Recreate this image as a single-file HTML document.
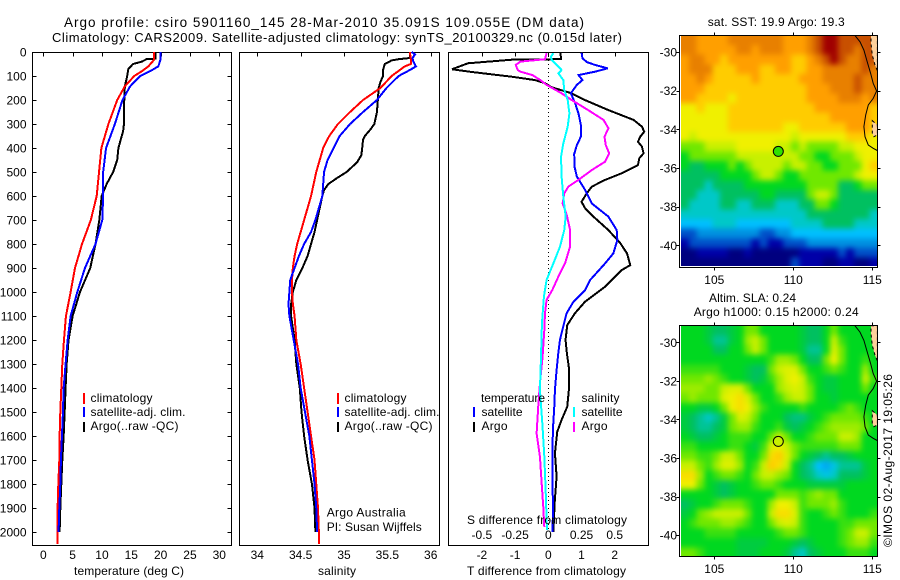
<!DOCTYPE html>
<html lang="en">
<head>
<meta charset="utf-8">
<title>Argo profile chart</title>
<style>
html,body{margin:0;padding:0;background:#fff;}
svg{display:block;}
text{font-family:"Liberation Sans",Arial,sans-serif;font-size:12px;fill:#000;}
</style>
</head>
<body>
<svg id="chart" xmlns="http://www.w3.org/2000/svg" width="900" height="580" viewBox="0 0 900 580">
  <rect x="0" y="0" width="900" height="580" fill="#fff"/>
  <defs>
    <clipPath id="clip-map1"><rect x="681" y="36" width="196" height="230"/></clipPath>
    <clipPath id="clip-map2"><rect x="681" y="326" width="196" height="230"/></clipPath>
    <filter id="heat-smooth" filterUnits="userSpaceOnUse" x="640" y="0" width="260" height="580" color-interpolation-filters="sRGB"><feGaussianBlur stdDeviation="3"/></filter>
  </defs>
  <g id="marks"></g>

  <text x="64" y="27" style="font-size:13.5px" textLength="520" lengthAdjust="spacing">Argo profile: csiro 5901160_145 28-Mar-2010 35.091S 109.055E (DM data)</text>
  <text x="52" y="42" style="font-size:13px" textLength="570" lengthAdjust="spacing">Climatology: CARS2009. Satellite-adjusted climatology: synTS_20100329.nc (0.015d later)</text>

  <text x="74" y="575" textLength="110" lengthAdjust="spacing">temperature (deg C)</text>
  <text x="318" y="575" textLength="38" lengthAdjust="spacing">salinity</text>
  <text x="467" y="575" textLength="159" lengthAdjust="spacing">T difference from climatology</text>
  <text x="467" y="524" textLength="160" lengthAdjust="spacing">S difference from climatology</text>

  <g>
    <line x1="84" y1="393" x2="84" y2="404" stroke="#f00" stroke-width="2"/>
    <line x1="84" y1="407" x2="84" y2="417" stroke="#00f" stroke-width="2"/>
    <line x1="84" y1="422" x2="84" y2="432" stroke="#000" stroke-width="2"/>
    <text x="90.5" y="402" textLength="62" lengthAdjust="spacing">climatology</text>
    <text x="90.5" y="416" textLength="95" lengthAdjust="spacing">satellite-adj. clim.</text>
    <text x="90.5" y="430" textLength="88" lengthAdjust="spacing">Argo(..raw -QC)</text>
  </g>
  <g>
    <line x1="338" y1="393" x2="338" y2="404" stroke="#f00" stroke-width="2"/>
    <line x1="338" y1="407" x2="338" y2="417" stroke="#00f" stroke-width="2"/>
    <line x1="338" y1="422" x2="338" y2="432" stroke="#000" stroke-width="2"/>
    <text x="344.5" y="402" textLength="62" lengthAdjust="spacing">climatology</text>
    <text x="344.5" y="416" textLength="95" lengthAdjust="spacing">satellite-adj. clim.</text>
    <text x="344.5" y="430" textLength="88" lengthAdjust="spacing">Argo(..raw -QC)</text>
  </g>
  <text x="326.7" y="516.5" textLength="79" lengthAdjust="spacing">Argo Australia</text>
  <text x="326.7" y="531" textLength="95" lengthAdjust="spacing">PI: Susan Wijffels</text>

  <g>
    <text x="481" y="402" textLength="64" lengthAdjust="spacing">temperature</text>
    <line x1="474" y1="407" x2="474" y2="417" stroke="#00f" stroke-width="2"/>
    <text x="481.5" y="416" textLength="41" lengthAdjust="spacing">satellite</text>
    <line x1="474" y1="422" x2="474" y2="432" stroke="#000" stroke-width="2"/>
    <text x="481.5" y="430" textLength="26" lengthAdjust="spacing">Argo</text>
    <text x="581.5" y="402" textLength="38" lengthAdjust="spacing">salinity</text>
    <line x1="574" y1="407" x2="574" y2="417" stroke="#0ff" stroke-width="2"/>
    <text x="581.5" y="416" textLength="41" lengthAdjust="spacing">satellite</text>
    <line x1="574" y1="422" x2="574" y2="432" stroke="#f0f" stroke-width="2"/>
    <text x="581.5" y="430" textLength="26" lengthAdjust="spacing">Argo</text>
  </g>

  <text x="707.7" y="26" textLength="137" lengthAdjust="spacing">sat. SST: 19.9 Argo: 19.3</text>
  <text x="709" y="302" textLength="87" lengthAdjust="spacing">Altim. SLA: 0.24</text>
  <text x="693.7" y="316" textLength="165" lengthAdjust="spacing">Argo h1000: 0.15 h2000: 0.24</text>
  <text transform="translate(892,547) rotate(-90)" x="0" y="0" textLength="173" lengthAdjust="spacing">©IMOS 02-Aug-2017 19:05:26</text>
</svg>
<script>
// ---------- axis tick labels ----------
const depthTicks = [0,100,200,300,400,500,600,700,800,900,1000,1100,1200,1300,1400,1500,1600,1700,1800,1900,2000];
const tempTicks = [0,5,10,15,20,25,30];
const salTicks = ["34","34.5","35","35.5","36"];
const tDiffTicks = ["-2","-1","0","1","2"];
const sDiffTicks = ["-0.5","-0.25","0","0.25","0.5"];
const lonTicks = [105,110,115];
const latTicks = [-30,-32,-34,-36,-38,-40];

// ---------- temperature panel ----------
const tempDepthClim = [0,20,32,60,80,100,143,200,300,400,500,600,700,800,900,1000,1100,1200,1300,1400,1500,1600,1700,1800,1900,2000,2050];
const tempClim = [18.9,18.9,18.9,17.9,16.8,15.5,13.9,12.6,11.1,9.9,9.5,9.1,8.1,6.6,5.4,4.66,3.86,3.52,3.24,3.07,2.9,2.78,2.73,2.56,2.44,2.44,2.4];
const tempDepthSat = [0,30,60,80,100,143,200,300,400,500,600,700,800,900,1000,1100,1200,1300,1400,1500,1600,1700,1800,1900,2000];
const tempSat = [20,20,19.6,18.2,16.5,14.8,13.5,12.2,10.7,10.2,10.2,10.05,8.9,7.1,5.8,4.66,4.15,3.8,3.47,3.35,3.18,3.0,2.9,2.73,2.6];
const tempDepthArgo = [0,28,30,40,50,70,100,143,200,300,330,400,450,500,550,600,700,800,900,1000,1100,1200,1300,1400,1500,1600,1700,1800,1900,2000];
const tempArgo = [19.1,19.1,17.6,16.8,15.3,14.5,14.3,13.9,13.8,13.75,13.6,12.8,12.6,11.9,10.8,9.95,9.55,8.9,8,6.25,5,4.3,3.98,3.8,3.64,3.47,3.24,3.07,2.9,2.78];

// ---------- salinity panel ----------
const salDepthClim = [0,30,50,60,100,150,200,250,300,350,400,450,500,550,600,650,700,750,800,850,900,950,1000,1050,1100,1200,1300,1400,1500,1600,1700,1800,1900,2000,2050];
const salClim = [35.76,35.77,35.77,35.70,35.55,35.42,35.22,35.07,34.93,34.83,34.76,34.72,34.68,34.65,34.62,34.58,34.54,34.5,34.46,34.43,34.41,34.4,34.4,34.41,34.43,34.45,34.5,34.54,34.58,34.62,34.66,34.68,34.7,34.71,34.71];
const salDepthSat = [0,10,25,40,60,75,100,150,200,250,300,350,400,450,500,550,600,650,700,750,800,850,900,950,1000,1050,1100,1200,1300,1400,1500,1600,1700,1800,1900,2000];
const salSat = [35.78,35.82,35.79,35.8,35.83,35.76,35.63,35.49,35.38,35.22,35.07,34.95,34.88,34.81,34.77,34.76,34.75,34.71,34.67,34.62,34.54,34.48,34.43,34.38,34.37,34.36,34.37,34.42,34.47,34.5,34.55,34.6,34.63,34.66,34.68,34.69];
const salDepthArgo = [0,25,30,35,50,75,100,125,150,200,250,300,325,350,365,400,430,460,500,525,550,575,600,650,700,750,800,850,900,950,1000,1050,1100,1200,1300,1400,1500,1600,1700,1800,1900,2000];
const salArgo = [35.76,35.76,35.63,35.55,35.47,35.45,35.45,35.42,35.4,35.39,35.38,35.35,35.3,35.24,35.22,35.21,35.2,35.15,35.03,34.92,34.82,34.77,34.75,34.72,34.69,34.66,34.62,34.58,34.52,34.45,34.41,34.39,34.39,34.43,34.45,34.49,34.51,34.54,34.58,34.63,34.66,34.67];

// ---------- difference panel ----------
const diffTArgoDepth = [3,30,31,47,72,83,103,117,130,147,172,200,242,283,311,332,353,374,394,422,443,471,506,533,561,589,624,651,686,742,797,839,888,908,978,1040,1089,1138,1200,1256,1325,1408,1478,1533,1582,1672,1769,1880,1950,2000];
const diffTArgo = [0.37,0.38,-1,-2.42,-2.9,-2.32,-1.1,-0.4,-0.1,0.1,0.7,1.1,1.81,2.57,2.82,2.89,2.77,2.7,2.82,2.87,2.74,2.7,2.2,1.71,1.31,1.16,1.0,1.11,1.36,1.81,2.17,2.37,2.47,2.22,1.71,1.11,0.8,0.57,0.52,0.56,0.63,0.62,0.57,0.4,0.27,0.2,0.25,0.19,0.17,0.15];
const diffTSatDepth = [3,26,42,54,68,82,96,117,137,172,214,256,304,353,388,425,478,519,575,631,686,742,783,839,881,950,992,1040,1089,1144,1200,1256,1325,1408,1478,1547,1658,1769,1880,2000];
const diffTSat = [1.0,1.03,1.16,1.41,1.79,1.41,0.91,1.03,0.86,0.68,0.81,0.91,0.98,0.98,0.86,0.78,0.79,0.86,1.11,1.31,1.81,2.06,2.08,1.96,1.71,1.26,1.11,0.76,0.55,0.45,0.35,0.3,0.25,0.2,0.18,0.15,0.12,0.12,0.14,0.13];
const diffSArgoDepth = [5,30,40,54,75,82,96,117,137,172,200,242,283,318,353,388,422,457,492,533,561,589,631,679,742,811,881,936,992,1033,1089,1158,1269,1381,1478,1589,1686,1797,1894,1980];
const diffSArgo = [-0.013,-0.025,-0.21,-0.245,-0.23,-0.21,-0.12,-0.06,-0.013,0.1,0.176,0.30,0.416,0.453,0.423,0.433,0.458,0.428,0.327,0.227,0.151,0.12,0.108,0.139,0.164,0.164,0.126,0.076,0.03,-0.013,-0.025,-0.03,-0.043,-0.063,-0.076,-0.088,-0.063,-0.05,-0.038,-0.03];
const diffSSatDepth = [5,19,33,54,75,89,117,158,200,256,311,381,436,519,603,686,742,811,881,950,1019,1131,1269,1408,1547,1686,1825,1992];
const diffSSat = [0.038,0.02,0.025,0.063,0.1,0.076,0.113,0.12,0.146,0.159,0.146,0.113,0.096,0.1,0.113,0.131,0.12,0.088,0.038,-0.013,-0.033,-0.048,-0.055,-0.063,-0.045,-0.03,-0.02,-0.01];

// ---------- SST heatmap colour levels (rows north to south, 25 columns) ----------
const sstLevels = [
[13,13,12,12,12,12,13,13,13,13,13,13,13,12,12,12,13,14,15,15,14,14,14,14,14],
[13,13,12,12,12,12,12,13,13,12,13,13,13,12,12,12,13,14,15,15,14,14,13,14,14],
[12,13,13,12,12,11,12,12,12,12,12,12,12,12,11,11,12,13,14,15,14,13,13,14,14],
[12,13,13,13,11,11,11,12,12,12,11,11,12,12,11,11,12,12,13,13,13,13,13,14,13],
[12,12,13,12,11,11,11,11,11,12,11,11,11,11,11,12,12,12,13,13,13,13,14,13,13],
[12,12,12,11,11,11,11,11,11,11,11,11,11,11,11,11,12,12,12,13,13,13,14,13,13],
[12,12,11,11,11,11,10,11,11,11,11,11,11,11,11,11,12,12,12,12,13,13,13,12,13],
[10,10,11,10,10,10,11,11,11,11,11,11,11,11,11,11,11,12,12,12,12,12,12,12,11],
[10,10,10,10,10,10,11,11,11,11,11,11,11,11,11,11,11,11,11,12,12,12,12,12,11],
[10,10,10,10,10,10,11,11,11,11,11,11,11,10,10,11,11,11,11,11,11,12,12,12,11],
[10,9,10,10,10,10,10,10,10,10,10,10,10,10,9,10,10,10,10,10,10,11,11,11,10],
[8,8,8,9,9,9,9,10,10,10,10,10,9,9,8,9,8,8,8,8,9,9,10,10,10],
[7,8,8,8,8,8,8,9,9,9,9,9,9,9,9,8,8,7,7,8,8,8,9,10,10],
[7,6,6,7,7,7,8,7,8,9,9,9,9,8,9,9,8,8,7,7,8,8,8,10,11],
[6,6,6,6,6,7,7,7,7,8,9,9,8,7,7,8,8,8,8,8,8,8,9,10,10],
[6,6,6,5,6,6,6,6,7,7,7,7,7,7,7,7,8,8,8,8,6,6,7,8,8],
[6,6,5,5,5,6,6,6,6,6,7,7,6,6,6,6,8,9,9,8,6,6,6,6,6],
[6,5,5,5,5,6,6,5,5,6,6,6,5,5,5,6,6,8,8,7,6,6,6,6,6],
[5,5,5,5,5,5,5,5,5,5,5,5,5,5,5,5,6,6,6,6,6,6,6,6,5],
[4,4,4,4,5,5,5,4,4,4,4,4,4,4,5,5,5,5,6,6,6,6,5,5,5],
[2,2,3,3,3,3,3,3,3,3,2,2,3,3,4,4,4,4,4,4,4,4,4,4,4],
[1,2,2,2,2,2,2,2,2,1,2,1,1,2,2,2,3,3,3,3,3,3,3,3,3],
[0,0,1,1,1,1,0,0,1,0,0,0,0,0,0,1,1,1,1,1,2,1,2,2,2],
[0,0,0,0,0,0,0,0,0,0,0,0,0,0,2,1,1,1,0,0,1,1,0,0,1]
];

// ---------- SLA heatmap colour levels (rows north to south, 25 columns) ----------
const slaLevels = [
[7,7,7,6.5,6,6,6.5,7,8,8,7,7,7,7,7,6.5,6,6,7,8,7,7,7,7,7],
[7,7,7,6.5,5.5,5.5,6.5,7,8.5,9,8,7,7,7,7,6.5,6,6,7,9,7.5,7,7,7,7],
[7,7,7,7,6,6,7,7,8,9,8,7,7,7,7,6.5,5.5,5.5,7,9.5,8,7,7,7,7],
[7,7,7,7,7,7,7,7,7,7,7,7.5,8.5,8.5,8,7,6,6,8,10,8,7,7,7.5,7],
[7.5,7.5,7.5,7.5,7.5,7,7,7,6.5,6,6,8,9,9.5,9.5,8,7,7,7.5,8,7.5,7,7,8.5,7],
[8,8,8,8.5,8,7.5,7,7,6.5,6,6.5,7.5,8.5,9.5,10,9,7.5,7,6.5,6.5,7,7,7,9,7.5],
[8.5,8.5,8.5,8,8,9,9.5,9.5,8,7,7,7,8.5,9,9.5,9,8,7,6.5,6.5,7,7,7,8,7],
[8,8.5,8,8,8,9.5,10,10.5,9.5,8,7,7,7.5,8.5,9,9,8,7,7,6.5,7,7,7,7,7],
[7,7,6.5,6.5,7,8,10,10.5,10,8.5,7.5,7,7,7,7,7.5,7,7,7,7,7.5,8,7.5,7,7],
[6.5,6,5.5,5,5.5,6.5,8,9.5,9,8,7,7,7,6,5.7,5.7,6.5,7,7.5,8,8,8,8,7.5,7],
[6.5,6,5.5,5.5,6,6.5,8,8.5,8.5,7.5,7,7,7.5,6.5,6,6.5,7,7.5,8,8.5,8.5,8.5,8.5,8,7],
[7,6.5,6,6,6.5,7,7.5,7.5,7.5,7,7,8,9,8,7,7,7.5,8,8,8,9,9,8.5,7,7],
[7.5,7.5,7,7,7,7,7.5,7.5,7,6.5,7.5,9.5,10,9,8,7.5,7.5,7.5,7.5,7.5,8,8,8,7,7],
[8,8,7.5,7.5,8,9,9,8,7,7,8,10.5,11,9.5,8,7,6.5,6,5.5,6,6,6.5,7,7,7],
[9,9,8,7.5,8.5,9.5,9.5,8.5,7,7.5,9,11,10.5,9,7,6,5.5,4,3.5,4.5,5.5,5.5,5.5,6.5,7],
[10.5,10.5,8.5,7,7.5,8,8,7.5,7,8,9,9,8.5,8,7,6,5.7,5,4.5,5,6,6,6,6.5,7],
[10,10,8,7,6.5,6,6.5,7,7,7.5,8,8,7.5,7,7,7,6.5,6.5,6.5,6.5,6.5,7,7,7,7],
[7,7,7,7,6.5,6,6.5,7,7,7,7,7,8,8,8,7.5,8,8.5,8,8,7,7,7,7,7],
[6,6.5,7,7,7.5,8,8,8,7.5,7,7,8.5,10,10,9,7.5,8,8,8,8.5,7.5,7,7,7,7],
[6.5,7,8,8.5,9,9,9,9,8,7,7,9,10.5,10.5,9.5,7.5,7,7,7.5,8,7.5,7,7,7,7.5],
[7,7.5,8,8,8,8.5,8.5,8,7.5,7,7,8,9,9.5,9,7.5,7,7,7,7,7.5,7.5,8,8,8],
[7,7,7,7.5,7.5,7.5,7.5,7,7,7,7,7,7.5,8,8,7.5,7,7,7,7,7.5,8,9,9,8],
[7,7,7,7,7,7,7,6.5,6.5,6.5,6.5,7,7,7,6.5,6,6.5,7,7,7,7.5,8,8.5,8.5,7.5],
[8,8,7.5,7,7,7,7,6.5,6.5,6.5,7,7,7,6.5,5.5,5,6,6.5,7,7,7,7.5,7.5,7.5,7]
];
const heatPalette = ["#00007f","#0000a8","#0050c8","#0090e0","#00c0ff","#00c8c8","#00c060","#00d820","#70e800","#c8f000","#f0f000","#ffcc00","#ff9f00","#e88000","#c85000","#a00000"];

// ---------- map geography (lon/lat) ----------
const coastLon = [113.90,114.22,114.47,114.68,114.89,115.06,115.27,115.06,114.75,114.58,114.47,114.54,114.75,115.06,115.32];
const coastLat = [-29.14,-29.47,-29.90,-30.50,-31.10,-31.62,-32.02,-32.40,-32.74,-33.26,-33.86,-34.38,-34.81,-34.98,-35.10];
const landALon = [114.92,115.32,115.32,115.17,115.0,114.92];
const landALat = [-29.14,-29.14,-30.97,-30.67,-30.16,-29.55];
const landBLon = [115.0,115.32,115.32,115.1,115.0];
const landBLat = [-33.55,-33.78,-34.29,-34.38,-34.2];
const argoLon = [109.05];
const argoLat = [-35.14];

// ---------- scales ----------
const depthY = d => 52 + 0.24 * d;
const tempX = t => 43.3 + 5.867 * t;
const salX = s => 257.3 + 86.7 * (s - 34);
const diffTX = t => 548.3 + 33.2 * t;
const diffSX = s => 548.3 + 132.8 * s;
const lonX = lon => 714.3 + (lon - 105) * 15.8;
const map1Y = lat => 52 + (-30 - lat) * 19.33;
const map2Y = lat => 342.3 + (-30 - lat) * 19.28;

const SVGNS = "http://www.w3.org/2000/svg";
const marks = document.getElementById("marks");

function make(tag, name, attrs, parent) {
  const el = document.createElementNS(SVGNS, tag);
  
  
  for (const k in attrs) el.setAttribute(k, attrs[k]);
  (parent || marks).appendChild(el);
  return el;
}
function tickLine(name, x1, y1, x2, y2) {
  make("line", name, {x1, y1, x2, y2, stroke: "#000", "stroke-width": 1, "shape-rendering": "crispEdges"});
}
function label(name, str, x, y, anchor) {
  const t = make("text", name, {x, y, "text-anchor": anchor || "middle"});
  t.textContent = str;
}
function frame(name, x, y, w, h) {
  make("rect", name, {x, y, width: w, height: h, fill: "none", stroke: "#000", "stroke-width": 1, "shape-rendering": "crispEdges"});
}
function profile(name, values, depths, xScale, color) {
  const pts = values.map((v, i) => xScale(v).toFixed(2) + "," + depthY(depths[i]).toFixed(2)).join(" ");
  make("polyline", name, {points: pts, fill: "none", stroke: color, "stroke-width": 2, "stroke-linejoin": "miter", "stroke-miterlimit": 3, "shape-rendering": "crispEdges"});
}
function heatColor(v) {
  const c = Math.max(0, Math.min(heatPalette.length - 1, v));
  const i = Math.floor(c);
  const j = Math.min(heatPalette.length - 1, i + 1);
  const f = c - i;
  const hex = s => [1, 3, 5].map(k => parseInt(s.substr(k, 2), 16));
  const a = hex(heatPalette[i]);
  const b = hex(heatPalette[j]);
  return "rgb(" + a.map((q, k) => Math.round(q + (b[k] - q) * f)).join(",") + ")";
}
function heatmap(name, levels, yScale, clipId) {
  const g = make("g", name, {"clip-path": "url(#" + clipId + ")"});
  const cells = make("g", name + "-cells", {filter: "url(#heat-smooth)"}, g);
  const lon0 = 102.89, lat0 = -29.14;
  const dLon = (115.32 - lon0) / levels[0].length;
  const dLat = 0.5;
  const rows = levels.length;
  levels.forEach((row, r) => row.forEach((v, c) => {
    // edge cells run past the clip so the smoothing does not fade at the frame
    let x0 = lonX(lon0 + c * dLon);
    let x1 = lonX(lon0 + (c + 1) * dLon);
    let y0 = yScale(lat0 - r * dLat);
    let y1 = yScale(lat0 - (r + 1) * dLat);
    if (c === 0) x0 -= 12;
    if (c === row.length - 1) x1 += 12;
    if (r === 0) y0 -= 12;
    if (r === rows - 1) y1 += 12;
    make("rect", name + "-cell", {x: x0.toFixed(2), y: y0.toFixed(2), width: (x1 - x0 + 0.5).toFixed(2), height: (y1 - y0 + 0.5).toFixed(2), fill: heatColor(v), "shape-rendering": "crispEdges"}, cells);
  }));
  return g;
}
function polyPoints(lons, lats, yScale) {
  return lons.map((lon, i) => lonX(lon).toFixed(1) + "," + yScale(lats[i]).toFixed(1)).join(" ");
}
function mapPanel(prefix, levels, yScale, clipId, top, bottom, pointFill) {
  const g = heatmap(prefix + "-heatmap", levels, yScale, clipId);
  make("polygon", prefix + "-land", {points: polyPoints(landALon, landALat, yScale), fill: "#fdd09c", stroke: "#000", "stroke-width": 1, "stroke-dasharray": "3 3"}, g);
  make("polygon", prefix + "-island", {points: polyPoints(landBLon, landBLat, yScale), fill: "#fdd09c", stroke: "#000", "stroke-width": 1, "stroke-dasharray": "3 3"}, g);
  make("polyline", prefix + "-coastline", {points: polyPoints(coastLon, coastLat, yScale), fill: "none", stroke: "#000", "stroke-width": 1}, g);
  make("circle", prefix + "-argo-position", {cx: lonX(argoLon[0]).toFixed(1), cy: yScale(argoLat[0]).toFixed(1), r: 5, fill: pointFill, stroke: "#000", "stroke-width": 1});
  frame(prefix + "-frame", 679.5, top, 198, bottom - top);
  lonTicks.forEach(lon => {
    const x = Math.round(lonX(lon)) + 0.5;
    tickLine(prefix + "-lon-tick-top", x, top - 3, x, top);
    tickLine(prefix + "-lon-tick-bottom", x, bottom, x, bottom + 3);
    label(prefix + "-lon-label", String(lon), lonX(lon), bottom + 16.5);
  });
  latTicks.forEach(lat => {
    const y = Math.round(yScale(lat)) + 0.5;
    tickLine(prefix + "-lat-tick-left", 676.5, y, 679.5, y);
    tickLine(prefix + "-lat-tick-right", 877.5, y, 880.5, y);
    label(prefix + "-lat-label", String(lat), 677, yScale(lat) + 4.5, "end");
  });
}

// temperature panel
frame("temperature-panel-frame", 32.5, 52.5, 199, 493);
depthTicks.forEach(d => {
  const y = Math.round(depthY(d)) + 0.5;
  tickLine("depth-tick-left", 32.5, y, 36.5, y);
  tickLine("depth-tick-right", 227.5, y, 231.5, y);
  label("depth-label", String(d), 26.5, depthY(d) + 4.5, "end");
});
tempTicks.forEach(t => {
  const x = Math.round(tempX(t)) + 0.5;
  tickLine("temperature-tick", x, 52.5, x, 56.5);
  label("temperature-label", String(t), tempX(t), 559);
});
profile("temperature-argo-line", tempArgo, tempDepthArgo, tempX, "#000");
profile("temperature-climatology-line", tempClim, tempDepthClim, tempX, "#f00");
profile("temperature-satellite-line", tempSat, tempDepthSat, tempX, "#00f");

// salinity panel
frame("salinity-panel-frame", 239.5, 52.5, 200, 493);
salTicks.forEach(s => {
  const x = Math.round(salX(parseFloat(s))) + 0.5;
  tickLine("salinity-tick", x, 52.5, x, 56.5);
  label("salinity-label", s, salX(parseFloat(s)), 559);
});
profile("salinity-argo-line", salArgo, salDepthArgo, salX, "#000");
profile("salinity-climatology-line", salClim, salDepthClim, salX, "#f00");
profile("salinity-satellite-line", salSat, salDepthSat, salX, "#00f");

// difference panel
frame("difference-panel-frame", 448.5, 52.5, 200, 493);
make("line", "zero-difference-line", {x1: 548.5, y1: 52, x2: 548.5, y2: 532, stroke: "#000", "stroke-width": 1, "stroke-dasharray": "1 3", "shape-rendering": "crispEdges"});
tDiffTicks.forEach(t => {
  const x = Math.round(diffTX(parseFloat(t))) + 0.5;
  tickLine("t-difference-tick", x, 52.5, x, 56.5);
  label("t-difference-label", t, diffTX(parseFloat(t)), 559);
});
sDiffTicks.forEach(s => {
  label("s-difference-label", s, diffSX(parseFloat(s)), 539);
});
profile("t-difference-argo-line", diffTArgo, diffTArgoDepth, diffTX, "#000");
profile("t-difference-satellite-line", diffTSat, diffTSatDepth, diffTX, "#00f");
profile("s-difference-argo-line", diffSArgo, diffSArgoDepth, diffSX, "#f0f");
profile("s-difference-satellite-line", diffSSat, diffSSatDepth, diffSX, "#0ff");

// maps
mapPanel("sst-map", sstLevels, map1Y, "clip-map1", 35.5, 267.5, "#30e000");
mapPanel("sla-map", slaLevels, map2Y, "clip-map2", 325.5, 556.5, "#c8f000");
</script>
</body>
</html>
